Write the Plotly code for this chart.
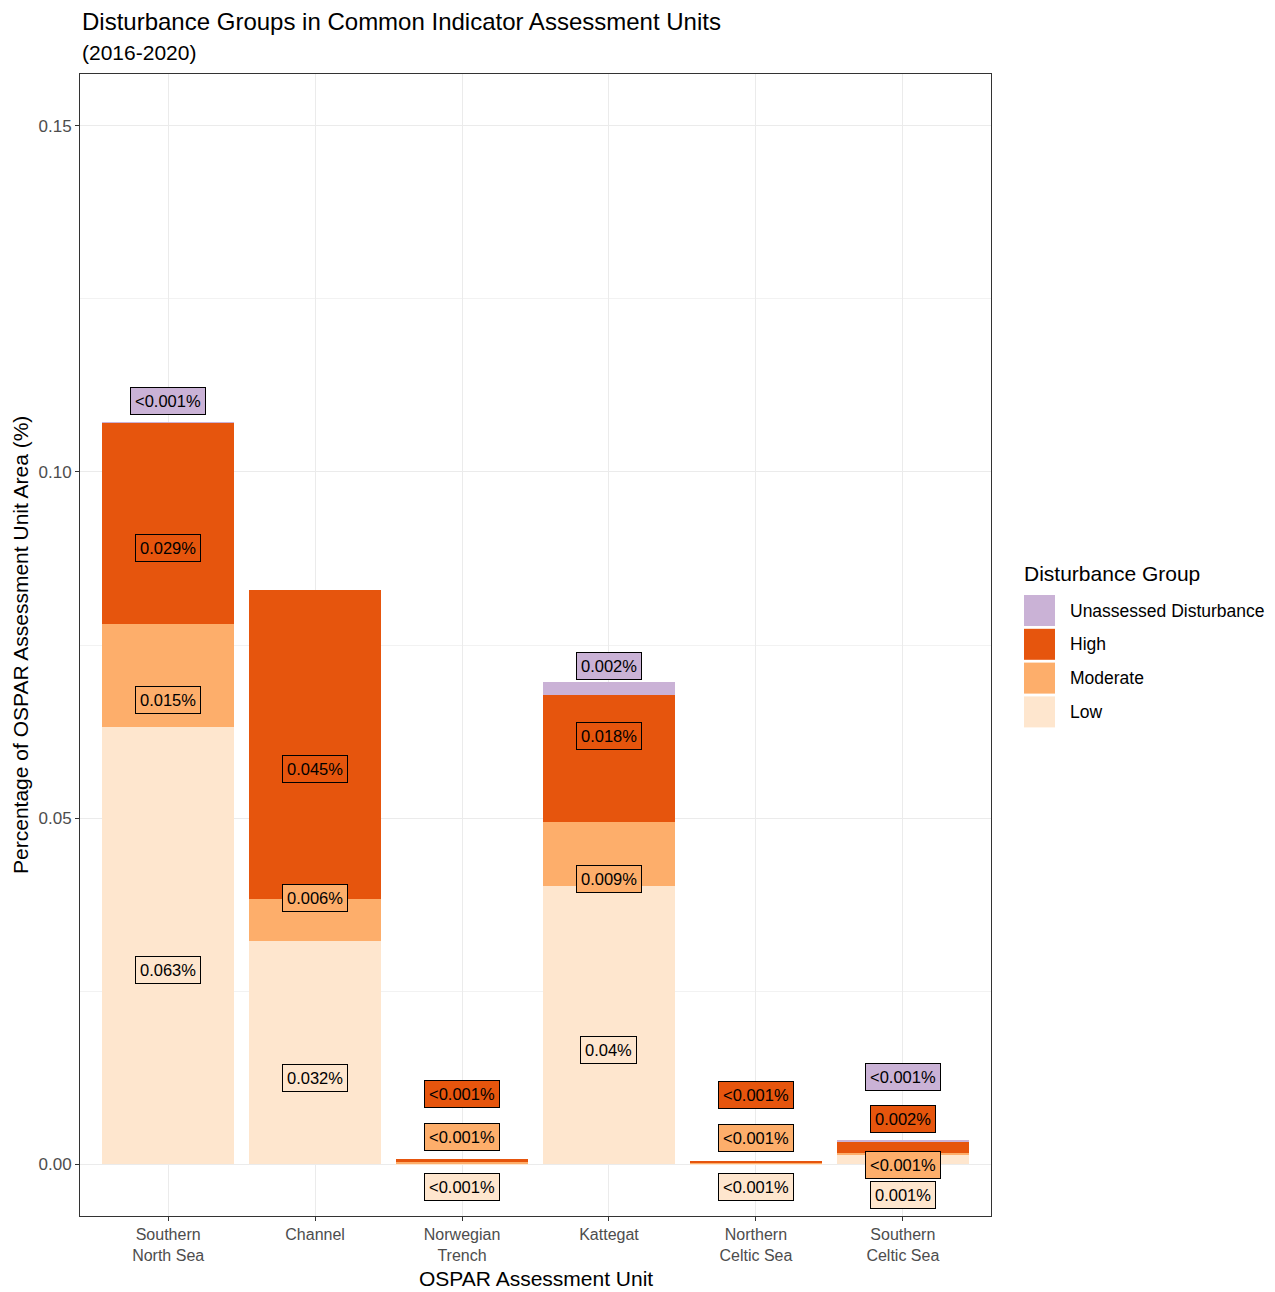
import plotly.graph_objects as go

# ---------------- data ----------------
units = ["Southern<br>North Sea", "Channel", "Norwegian<br>Trench", "Kattegat",
         "Northern<br>Celtic Sea", "Southern<br>Celtic Sea"]
groups = ["Low", "Moderate", "High", "Unassessed Disturbance"]

low = [0.0632, 0.0322, 0.0001, 0.0402, 0.0001, 0.0013]
moderate = [0.0149, 0.0061, 0.0002, 0.0092, 0.0001, 0.0003]
high = [0.0290, 0.0447, 0.0005, 0.0184, 0.0003, 0.0017]
unassessed = [0.0001, 0.0, 0.0, 0.0019, 0.0, 0.0001]

colors = {"Low": "#FEE6CE", "Moderate": "#FDAE6B", "High": "#E6550D",
          "Unassessed Disturbance": "#CAB2D6"}

# label positions for labels pushed away from their segment (repelled), data units
label_override = {
    (0, "Unassessed Disturbance"): 0.1103,
    (1, "Moderate"): 0.0384,
    (2, "High"): 0.0101, (2, "Moderate"): 0.0039, (2, "Low"): -0.0033,
    (3, "Unassessed Disturbance"): 0.0720, (3, "High"): 0.0618,
    (4, "High"): 0.0100, (4, "Moderate"): 0.0038, (4, "Low"): -0.0033,
    (5, "Unassessed Disturbance"): 0.0126, (5, "High"): 0.0065,
    (5, "Moderate"): -0.0001, (5, "Low"): -0.0045,
}

values = {"Low": low, "Moderate": moderate, "High": high, "Unassessed Disturbance": unassessed}

FONT = "Arial, Liberation Sans, sans-serif"
fig = go.Figure()
xs = list(range(len(units)))

for g in groups:
    fig.add_trace(go.Bar(x=xs, y=values[g], name=g, marker_color=colors[g],
                         marker_line_width=0, width=0.9, showlegend=False))

# labels
base = [0.0] * len(units)
for g in groups:
    for i, v in enumerate(values[g]):
        if v > 0:
            center = base[i] + v / 2
            y = label_override.get((i, g), center - 0.0036)
            txt = "<0.001%" if v < 0.001 else f"{round(v, 3):g}%"
            fig.add_annotation(x=i, y=y, xref="x", yref="y", text=txt, showarrow=False,
                               font=dict(family=FONT, size=16.5, color="black"),
                               bgcolor=colors[g], bordercolor="black", borderwidth=1,
                               borderpad=4)
        base[i] += v

# page has an 8px body margin; compensate so the plot area lands where the reference has it
fig.update_layout(
    width=1267, height=1284,
    margin=dict(l=72, r=284, t=66, b=76),
    plot_bgcolor="white", paper_bgcolor="white",
    barmode="stack", bargap=0.1,
    font=dict(family=FONT, color="black"),
)
fig.update_xaxes(range=[-0.6, 5.6], tickmode="array", tickvals=xs, ticktext=units,
                 showgrid=True, gridcolor="#EBEBEB", gridwidth=1,
                 showline=True, mirror=True, linecolor="#333333", linewidth=1,
                 ticks="outside", ticklen=4, tickcolor="#333333",
                 tickfont=dict(family=FONT, size=16, color="#4D4D4D"), zeroline=False)
fig.update_yaxes(range=[-0.0075, 0.1575], tickmode="array", tickvals=[0, 0.05, 0.10, 0.15],
                 ticktext=["0.00", "0.05", "0.10", "0.15"],
                 showgrid=True, gridcolor="#EBEBEB", gridwidth=1,
                 minor=dict(tickmode="array", tickvals=[0.025, 0.075, 0.125], showgrid=True,
                            gridcolor="#F2F2F2", gridwidth=1, ticks=""),
                 showline=True, mirror=True, linecolor="#333333", linewidth=1,
                 ticks="outside", ticklen=4, tickcolor="#333333",
                 tickfont=dict(family=FONT, size=17, color="#4D4D4D"), zeroline=False)

# titles
fig.add_annotation(xref="paper", yref="paper", x=0, y=1.046, xanchor="left", yanchor="middle",
                   text="Disturbance Groups in Common Indicator Assessment Units",
                   showarrow=False, font=dict(family=FONT, size=24, color="black"))
fig.add_annotation(xref="paper", yref="paper", x=0, y=1.019, xanchor="left", yanchor="middle",
                   text="(2016-2020)", showarrow=False, font=dict(family=FONT, size=21, color="black"))
fig.add_annotation(xref="paper", yref="paper", x=0.5, y=-0.0543, xanchor="center", yanchor="middle",
                   text="OSPAR Assessment Unit", showarrow=False,
                   font=dict(family=FONT, size=21, color="black"))
fig.add_annotation(xref="paper", yref="paper", x=-0.0659, y=0.5, xanchor="center", yanchor="middle",
                   text="Percentage of OSPAR Assessment Unit Area (%)", textangle=-90, showarrow=False,
                   font=dict(family=FONT, size=21, color="black"))

# manual legend (ggplot style)
PW, PH = 911, 1142
def px_x(p): return (p - 80) / PW
def px_y(p): return (1216 - p) / PH
fig.add_annotation(xref="paper", yref="paper", x=px_x(1022), y=px_y(573), xanchor="left",
                   yanchor="middle", text="Disturbance Group", showarrow=False,
                   font=dict(family=FONT, size=21, color="black"))
legend_order = ["Unassessed Disturbance", "High", "Moderate", "Low"]
for k, g in enumerate(legend_order):
    top = 595 + k * 33.8
    fig.add_shape(type="rect", xref="paper", yref="paper", x0=px_x(1024), x1=px_x(1055),
                  y0=px_y(top + 31), y1=px_y(top), fillcolor=colors[g], line_width=0)
    fig.add_annotation(xref="paper", yref="paper", x=px_x(1068), y=px_y(top + 15.5), xanchor="left",
                       yanchor="middle", text=g, showarrow=False,
                       font=dict(family=FONT, size=17.5, color="black"))

fig.write_html("out.html")
